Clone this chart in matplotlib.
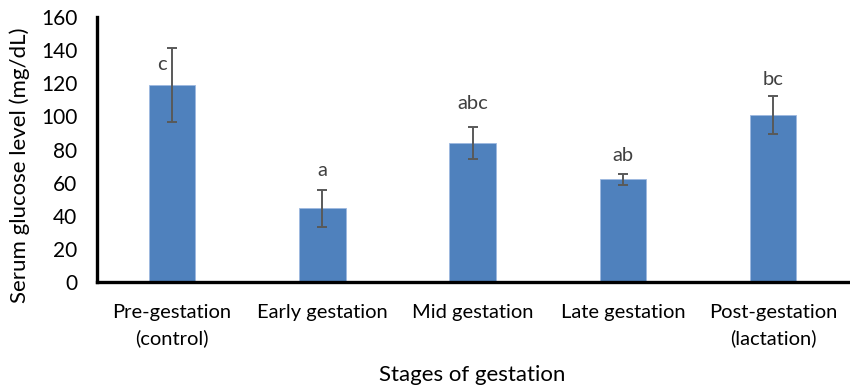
import matplotlib
matplotlib.use("Agg")
import matplotlib.pyplot as plt
import numpy as np

categories = ["Pre-gestation\n(control)", "Early gestation", "Mid gestation",
              "Late gestation", "Post-gestation\n(lactation)"]
means = [119, 44.5, 84, 62, 101]
errors = [22.5, 11, 9.5, 3.5, 11.3]
letters = ["c", "a", "abc", "ab", "bc"]

# layout of the letter labels (offset in points from top of error bar)
letter_offsets = [(-7, -18), (0, 8), (0, 11), (0, 7), (0, 6)]

plt.rcParams['font.family'] = ['Lato', 'DejaVu Sans']

fig = plt.figure(figsize=(8.5, 3.9), dpi=100)
ax = fig.add_axes([0.114, 0.277, 0.884, 0.679])

x = np.arange(len(categories))
ax.bar(x, means, width=0.31, color="#4F81BD", edgecolor="#9DB9E0", linewidth=0.6, zorder=2)
ax.errorbar(x, means, yerr=errors, fmt="none", ecolor="#595959", elinewidth=1.4,
            capsize=3.5, capthick=1.4, zorder=3)

for xi, m, e, lab, off in zip(x, means, errors, letters, letter_offsets):
    ax.annotate(lab, (xi, m + e), xytext=off, textcoords="offset points",
                ha="center", va="bottom", fontsize=14.5, color="#404040")

ax.set_xlim(-0.5, 4.5)
ax.set_ylim(0, 160)
ax.set_yticks(np.arange(0, 161, 20))
ax.set_xticks(x)
ax.set_xticklabels(categories, fontsize=14.5, color="#000000", linespacing=1.55)
ax.tick_params(axis="y", length=0, labelsize=15, pad=14)
ax.tick_params(axis="x", length=0, pad=16)

for s in ["top", "right"]:
    ax.spines[s].set_visible(False)
for s in ["left", "bottom"]:
    ax.spines[s].set_linewidth(2.4)
    ax.spines[s].set_color("black")

ax.set_ylabel("Serum glucose level (mg/dL)", fontsize=16)
ax.yaxis.set_label_coords(-0.089, 0.44)
ax.set_xlabel("Stages of gestation", fontsize=16, labelpad=13)

fig.savefig("out.png", dpi=100)
